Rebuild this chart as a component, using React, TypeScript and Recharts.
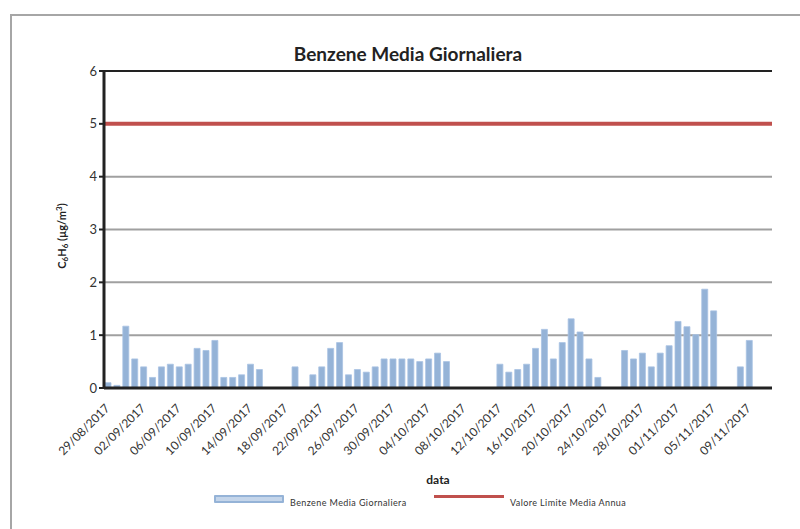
import { ComposedChart, Bar, XAxis, YAxis, CartesianGrid, ReferenceLine, Legend } from 'recharts';

// daily dates shown on the category axis
const DATES = [
  '29/08/2017', '30/08/2017', '31/08/2017',
  '01/09/2017', '02/09/2017', '03/09/2017', '04/09/2017', '05/09/2017', '06/09/2017', '07/09/2017', '08/09/2017', '09/09/2017', '10/09/2017',
  '11/09/2017', '12/09/2017', '13/09/2017', '14/09/2017', '15/09/2017', '16/09/2017', '17/09/2017', '18/09/2017', '19/09/2017', '20/09/2017',
  '21/09/2017', '22/09/2017', '23/09/2017', '24/09/2017', '25/09/2017', '26/09/2017', '27/09/2017', '28/09/2017', '29/09/2017', '30/09/2017',
  '01/10/2017', '02/10/2017', '03/10/2017', '04/10/2017', '05/10/2017', '06/10/2017', '07/10/2017', '08/10/2017', '09/10/2017', '10/10/2017',
  '11/10/2017', '12/10/2017', '13/10/2017', '14/10/2017', '15/10/2017', '16/10/2017', '17/10/2017', '18/10/2017', '19/10/2017', '20/10/2017',
  '21/10/2017', '22/10/2017', '23/10/2017', '24/10/2017', '25/10/2017', '26/10/2017', '27/10/2017', '28/10/2017', '29/10/2017', '30/10/2017',
  '31/10/2017', '01/11/2017', '02/11/2017', '03/11/2017', '04/11/2017', '05/11/2017', '06/11/2017', '07/11/2017', '08/11/2017', '09/11/2017',
  '10/11/2017', '11/11/2017',
];

// Benzene Media Giornaliera (µg/m3), null = no measurement
const BENZENE = [
  0.10, 0.05, 1.17,
  0.55, 0.40, 0.20, 0.40, 0.45, 0.40, 0.45, 0.75, 0.71, 0.90,
  0.20, 0.20, 0.25, 0.45, 0.35, null, null, null, 0.40, null,
  0.25, 0.40, 0.75, 0.86, 0.25, 0.35, 0.30, 0.40, 0.55, 0.55,
  0.55, 0.55, 0.50, 0.55, 0.66, 0.50, null, null, null, null,
  null, 0.45, 0.30, 0.35, 0.45, 0.75, 1.11, 0.55, 0.86, 1.31,
  1.06, 0.55, 0.20, null, null, 0.71, 0.55, 0.66, 0.40, 0.66,
  0.80, 1.26, 1.16, 1.01, 1.87, 1.46, null, null, 0.40, 0.90,
  null, null,
];

// Valore Limite Media Annua
const LIMIT = 5;
const Y_TICKS = [0, 1, 2, 3, 4, 5, 6];

const data = DATES.map((d, i) => ({ date: d, benzene: BENZENE[i] }));

const FONT = 'Lato, "Open Sans", sans-serif';
const BAR_COLOR = '#95b3d7';
const LIMIT_COLOR = '#c0504d';

const DateTick = ({ x, y, payload }: any) => (
  <g transform={`translate(${x + 2},${y + 13})`}>
    <text x={0} y={0} transform="rotate(-45)" textAnchor="end" fontSize={12} fill="#333" fontFamily={FONT}>
      {payload.value}
    </text>
  </g>
);

const renderLegend = () => (
  <div style={{ position: 'relative', height: 16, fontFamily: FONT, fontSize: 9, color: '#333' }}>
    <span style={{ position: 'absolute', left: 0, top: 3, width: 66, height: 4, background: '#c4d5ea', border: `2px solid ${BAR_COLOR}`, borderRadius: 1 }} />
    <span style={{ position: 'absolute', left: 76, top: 5, letterSpacing: 0.4 }}>Benzene Media Giornaliera</span>
    <span style={{ position: 'absolute', left: 220, top: 3, width: 70, height: 3, background: LIMIT_COLOR }} />
    <span style={{ position: 'absolute', left: 296, top: 5, letterSpacing: 0.4 }}>Valore Limite Media Annua</span>
  </div>
);

const renderYLabel = () => (
  <text x={66} y={236} transform="rotate(-90 66 236)" textAnchor="middle" fontSize={11} fontWeight="bold" fill="#222" fontFamily={FONT}>
    C<tspan fontSize={8} dy={2}>6</tspan><tspan dy={-2}>H</tspan><tspan fontSize={8} dy={2}>6</tspan>
    <tspan dy={-2}> (</tspan><tspan>µg/m</tspan><tspan fontSize={8} dy={-4}>3</tspan><tspan dy={4}>)</tspan>
  </text>
);

const renderXLabel = (props: any) => {
  const vb = props.viewBox || { x: 104, width: 668, y: 388 };
  return (
    <text x={vb.x + vb.width / 2} y={484} textAnchor="middle" fontSize={12} fontWeight="bold" fill="#222" fontFamily={FONT}>
      data
    </text>
  );
};

export default function App() {
  return (
    <div style={{ position: 'absolute', left: 0, top: 0, width: 800, height: 529, background: '#fff', overflow: 'hidden' }}>
      <div style={{ position: 'absolute', left: 10, top: 14, width: 820, height: 540, borderLeft: '2px solid #a6a6a6', borderTop: '2px solid #a6a6a6' }} />
      <div style={{ position: 'absolute', left: 208, top: 42, width: 400, textAlign: 'center', fontFamily: FONT, fontWeight: 'bold', fontSize: 19, color: '#222' }}>
        Benzene Media Giornaliera
      </div>
      <ComposedChart
        width={800}
        height={529}
        data={data}
        margin={{ top: 71, right: 28, bottom: 41, left: 64 }}
        barCategoryGap={2}
        style={{ position: 'absolute', left: 0, top: 0 }}
      >
        <CartesianGrid vertical={false} stroke="#a0a0a0" strokeWidth={2} />
        <XAxis
          dataKey="date"
          interval={3}
          tickLine={false}
          tick={<DateTick />}
          height={100}
          axisLine={{ stroke: '#222', strokeWidth: 3 }}
          label={renderXLabel}
        />
        <YAxis
          domain={[0, 6]}
          ticks={Y_TICKS}
          width={40}
          tickSize={5}
          tickLine={{ stroke: '#222', strokeWidth: 2 }}
          axisLine={{ stroke: '#222', strokeWidth: 3 }}
          tick={{ fontSize: 13, fill: '#333', fontFamily: FONT }}
          label={renderYLabel}
        />
        <YAxis
          yAxisId="frame"
          orientation="right"
          domain={[0, 6]}
          width={0}
          tick={false}
          tickLine={false}
          axisLine={{ stroke: '#222', strokeWidth: 2 }}
        />
        <ReferenceLine y={6} stroke="#222" strokeWidth={2} />
        <Bar dataKey="benzene" name="Benzene Media Giornaliera" fill={BAR_COLOR} stroke="#a9c3e3" strokeWidth={0.8} barSize={6} isAnimationActive={false} />
        <ReferenceLine y={LIMIT} stroke={LIMIT_COLOR} strokeWidth={4} />
        <Legend
          layout="horizontal"
          verticalAlign="middle"
          align="center"
          content={renderLegend}
          wrapperStyle={{ top: 492, left: 214, width: 420 }}
        />
      </ComposedChart>
    </div>
  );
}
